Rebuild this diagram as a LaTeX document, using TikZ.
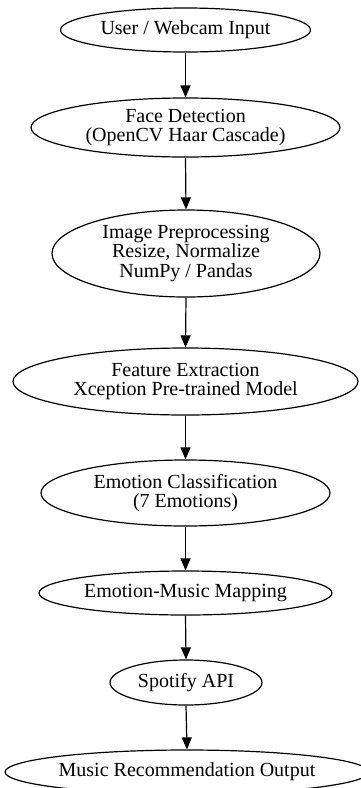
\documentclass[tikz,border=0pt]{standalone}
\usepackage{fontspec}
\setmainfont{Liberation Serif}
\usetikzlibrary{shapes.geometric,arrows.meta}
\tikzset{
  stage/.style={draw, ellipse, line width=1.2pt, inner sep=0pt, align=center,
    font=\fontsize{20}{19.5}\selectfont},
  flow/.style={-{Triangle[length=12pt,width=10pt]}, line width=1.2pt}
}
\begin{document}
\begin{tikzpicture}[x=1pt,y=-1pt]
\useasboundingbox (0,0) rectangle (360,788);
\node[stage, minimum width=250pt, minimum height=44pt] (n1) at (185.5,30) {User / Webcam Input};
\node[stage, minimum width=309pt, minimum height=59pt] (n2) at (185.5,127.5) {Face Detection\\(OpenCV Haar Cascade)};
\node[stage, minimum width=268pt, minimum height=87pt] (n3) at (186,253.5) {Image Preprocessing\\Resize, Normalize\\NumPy / Pandas};
\node[stage, minimum width=345pt, minimum height=67pt] (n4) at (185.5,381.5) {Feature Extraction\\Xception Pre-trained Model};
\node[stage, minimum width=289pt, minimum height=66pt] (n5) at (185.5,493) {Emotion Classification\\(7 Emotions)};
\node[stage, minimum width=293pt, minimum height=44pt] (n6) at (185.5,593) {Emotion-Music Mapping};
\node[stage, minimum width=152pt, minimum height=45pt] (n7) at (186,682.5) {Spotify API};
\node[stage, minimum width=364pt, minimum height=44pt] (n8) at (187,772) {Music Recommendation Output};
\draw[flow] (n1.south) -- (n2.north);
\draw[flow] (n2.south) -- (n3.north);
\draw[flow] (n3.south) -- (n4.north);
\draw[flow] (n4.south) -- (n5.north);
\draw[flow] (n5.south) -- (n6.north);
\draw[flow] (n6.south) -- (n7.north);
\draw[flow] (n7.south) -- (n8.north);
\end{tikzpicture}
\end{document}
